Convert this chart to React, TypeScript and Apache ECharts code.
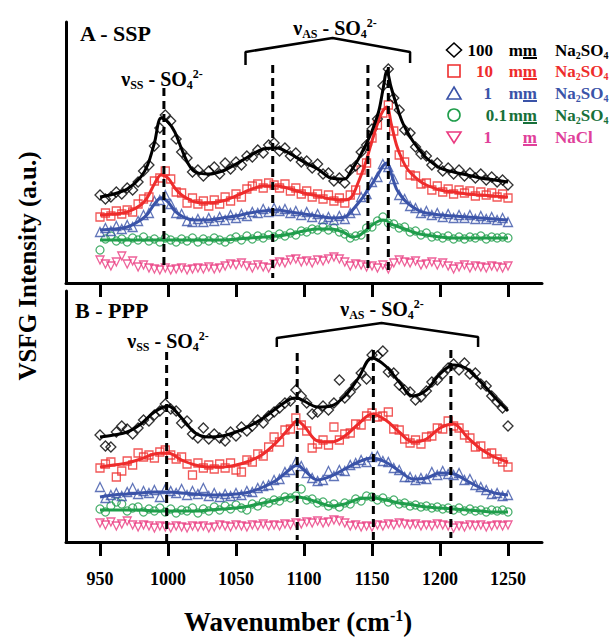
import React, { useEffect, useRef } from "react";
import * as echarts from "echarts";

const FF = "Liberation Serif";

// wavenumbers of the measured points (cm-1)
const scanX = [
  950, 954, 958, 962, 966, 970, 974, 978, 982, 986,
  990, 994, 998, 1002, 1006, 1010, 1014, 1018, 1022, 1026,
  1030, 1034, 1038, 1042, 1046, 1050, 1054, 1058, 1062, 1066,
  1070, 1074, 1078, 1082, 1086, 1090, 1094, 1098, 1102, 1106,
  1110, 1114, 1118, 1122, 1126, 1130, 1134, 1138, 1142, 1146,
  1150, 1154, 1158, 1162, 1166, 1170, 1174, 1178, 1182, 1186,
  1190, 1194, 1198, 1202, 1206, 1210, 1214, 1218, 1222, 1226,
  1230, 1234, 1238, 1242, 1246, 1250,
];

// ---- Panel A (SSP) measured points ----
const aBlackPts = [
  88, 84, 86, 91, 89, 95, 93, 101, 112, 118,
  137, 155, 168, 162, 144, 131, 125, 111, 113, 107,
  112, 116, 109, 120, 114, 121, 118, 127, 126, 133,
  130, 138, 140, 132, 135, 127, 130, 121, 122, 115,
  119, 109, 110, 102, 105, 100, 113, 117, 131, 138,
  154, 164, 197, 214, 185, 173, 153, 150, 136, 129,
  127, 118, 120, 112, 115, 109, 113, 107, 110, 105,
  109, 103, 106, 101, 103, 98,
];
const aRedPts = [
  66, 70, 67, 72, 69, 73, 71, 79, 84, 86,
  102, 105, 112, 104, 91, 90, 80, 85, 79, 82,
  77, 83, 79, 86, 82, 89, 86, 94, 97, 99,
  95, 100, 98, 95, 99, 92, 95, 89, 92, 86,
  89, 84, 88, 82, 85, 80, 88, 93, 113, 120,
  145, 158, 170, 178, 152, 128, 121, 108, 107, 99,
  100, 93, 97, 91, 94, 89, 93, 90, 92, 87,
  91, 88, 90, 86, 89, 85,
];
const aBluePts = [
  51, 55, 52, 57, 54, 58, 56, 62, 68, 70,
  82, 83, 88, 79, 70, 69, 62, 61, 64, 61,
  65, 62, 66, 63, 68, 65, 69, 67, 71, 70,
  74, 71, 75, 72, 74, 70, 72, 68, 71, 66,
  69, 64, 66, 63, 67, 64, 70, 73, 86, 89,
  101, 106, 119, 116, 104, 88, 84, 77, 75, 70,
  72, 68, 70, 66, 69, 65, 68, 65, 68, 64,
  67, 64, 66, 63, 65, 61,
];
const aGreenPts = [
  33, 44, 47, 42, 44, 41, 45, 43, 46, 42,
  44, 41, 45, 43, 41, 44, 42, 45, 41, 44,
  42, 45, 43, 41, 44, 46, 43, 47, 44, 47,
  45, 48, 46, 49, 47, 50, 48, 52, 51, 54,
  53, 56, 53, 55, 51, 49, 45, 47, 48, 55,
  56, 62, 66, 60, 59, 55, 56, 51, 52, 48,
  50, 46, 47, 45, 47, 44, 46, 44, 46, 45,
  47, 44, 46, 45, 46, 45,
];
const aPinkPts = [
  23, 19, 17, 21, 27, 19, 22, 16, 18, 15,
  14, 13, 15, 13, 14, 15, 13, 14, 15, 14,
  16, 14, 15, 17, 19, 18, 20, 17, 15, 18,
  16, 15, 19, 21, 20, 23, 24, 21, 22, 20,
  23, 22, 24, 26, 24, 21, 17, 19, 18, 16,
  17, 15, 18, 14, 20, 23, 21, 20, 22, 18,
  19, 21, 18, 20, 17, 14, 16, 18, 15, 17,
  16, 15, 17, 16, 15, 17,
];

// ---- Panel A fits ----
const fitXA = [
  950, 960, 970, 980, 985, 990, 995, 1000, 1005, 1010,
  1015, 1020, 1030, 1040, 1050, 1060, 1070, 1080, 1090, 1100,
  1110, 1120, 1130, 1135, 1140, 1145, 1150, 1155, 1158, 1161,
  1164, 1168, 1172, 1176, 1180, 1185, 1190, 1200, 1210, 1220,
  1230, 1240, 1250,
];
const aBlackFit = [
  86, 89, 94, 106, 118, 140, 165, 161, 151, 134,
  119, 111, 109, 112, 119, 127, 134, 135, 129, 121,
  114, 105, 104, 113, 124, 137, 152, 172, 193, 212,
  196, 178, 162, 151, 142, 133, 125, 115, 111, 108,
  105, 103, 101,
];
const aRedFit = [
  68, 69, 71, 78, 86, 99, 108, 105, 95, 88,
  84, 81, 80, 82, 87, 93, 97, 97, 94, 90,
  87, 84, 83, 86, 101, 119, 142, 163, 172, 176,
  160, 138, 124, 114, 108, 102, 98, 93, 91, 89,
  88, 87, 86,
];
const aBlueFit = [
  53, 54, 56, 63, 69, 79, 85, 81, 72, 67,
  64, 63, 63, 65, 67, 70, 72, 73, 71, 69,
  67, 65, 66, 72, 80, 89, 99, 110, 117, 120,
  110, 94, 86, 80, 76, 72, 70, 68, 67, 66,
  65, 64, 63,
];
const aGreenFit = [
  43, 43, 43, 43, 43, 43, 43, 43, 43, 43,
  43, 43, 43, 43, 44, 45, 46, 47, 49, 52,
  54, 54, 50, 46, 47, 52, 58, 62, 63, 62,
  59, 57, 55, 53, 51, 49, 48, 46, 45, 45,
  45, 45, 45,
];

// ---- Panel B (PPP) measured points ----
const bBlackPts = [
  107, 96, 95, 110, 116, 113, 108, 114, 122, 121,
  127, 131, 138, 133, 131, 119, 121, 108, 104, 114,
  103, 108, 104, 101, 110, 106, 115, 111, 116, 122,
  119, 126, 130, 134, 139, 141, 152, 146, 139, 128,
  130, 136, 132, 139, 162, 144, 150, 157, 169, 163,
  187, 186, 191, 170, 169, 157, 152, 150, 142, 145,
  151, 160, 162, 168, 174, 178, 172, 179, 168, 169,
  158, 156, 146, 140, 134, 116,
];
const bRedPts = [
  74, 78, 80, 65, 71, 81, 77, 89, 85, 87,
  84, 90, 92, 87, 83, 85, 78, 67, 79, 74,
  77, 73, 78, 74, 79, 72, 70, 82, 80, 88,
  86, 95, 105, 100, 112, 113, 124, 117, 111, 94,
  98, 102, 97, 115, 102, 108, 109, 118, 117, 126,
  129, 125, 126, 130, 113, 112, 103, 99, 102, 98,
  105, 106, 114, 113, 121, 116, 114, 107, 104, 95,
  96, 88, 89, 83, 80, 75,
];
const bBluePts = [
  55, 44, 47, 49, 46, 50, 54, 48, 51, 49,
  52, 45, 53, 51, 49, 53, 47, 51, 48, 54,
  46, 49, 45, 48, 46, 49, 47, 51, 50, 54,
  56, 57, 62, 63, 70, 72, 80, 76, 69, 64,
  61, 62, 71, 66, 72, 71, 77, 79, 82, 80,
  85, 86, 81, 80, 74, 72, 65, 65, 62, 64,
  63, 70, 67, 71, 68, 67, 69, 62, 63, 57,
  55, 52, 48, 49, 46, 47,
];
const bGreenPts = [
  33, 30, 36, 40, 38, 31, 34, 35, 30, 33,
  31, 34, 30, 33, 29, 32, 31, 34, 29, 33,
  31, 35, 32, 36, 33, 37, 34, 32, 38, 36,
  40, 39, 42, 41, 45, 44, 46, 53, 42, 43,
  39, 40, 36, 38, 35, 39, 38, 43, 41, 46,
  45, 42, 44, 40, 42, 38, 39, 36, 37, 35,
  36, 34, 35, 33, 34, 32, 34, 31, 33, 31,
  32, 30, 32, 31, 32, 30,
];
const bPinkPts = [
  19, 17, 20, 16, 18, 21, 17, 15, 17, 16,
  14, 16, 15, 14, 16, 15, 14, 16, 15, 16,
  14, 15, 17, 16, 15, 17, 16, 15, 17, 16,
  18, 16, 17, 16, 18, 17, 19, 18, 20, 19,
  21, 19, 20, 22, 21, 19, 16, 17, 15, 16,
  15, 17, 16, 18, 17, 19, 18, 17, 18, 16,
  17, 16, 18, 17, 16, 14, 16, 15, 17, 16,
  17, 15, 16, 17, 16, 17,
];

// ---- Panel B fits ----
const fitXB = [
  950, 960, 970, 980, 990, 1000, 1010, 1020, 1030, 1040,
  1050, 1060, 1070, 1080, 1090, 1095, 1100, 1110, 1120, 1130,
  1140, 1150, 1160, 1170, 1180, 1190, 1200, 1210, 1220, 1230,
  1240, 1250,
];
const bBlackFit = [
  105, 107, 110, 118, 130, 136, 124, 109, 105, 106,
  110, 116, 124, 134, 143, 144, 141, 135, 136, 146,
  164, 184, 176, 160, 146, 152, 168, 177, 173, 160,
  145, 131,
];
const bRedFit = [
  75, 77, 79, 83, 88, 89, 82, 77, 75, 75,
  77, 81, 88, 100, 115, 121, 116, 101, 100, 106,
  118, 128, 122, 110, 100, 103, 114, 118, 105, 93,
  85, 80,
];
const bBlueFit = [
  45, 47, 48, 49, 50, 50, 49, 48, 47, 47,
  48, 50, 55, 62, 73, 77, 72, 62, 66, 73,
  80, 84, 80, 71, 63, 64, 69, 68, 61, 54,
  49, 47,
];
const bGreenFit = [
  32, 32, 32, 32, 31, 31, 31, 31, 32, 33,
  34, 36, 39, 42, 45, 45, 44, 40, 36, 38,
  43, 44, 42, 39, 37, 35, 34, 33, 32, 31,
  30, 30,
];

// peak markers (dashed lines): position and vertical extent
const dashAX = [997, 1077, 1147, 1162];
const dashATop = [195, 218, 218, 216];
const dashABottom = [13, 5, 13, 11];
const dashBX = [999, 1095, 1151, 1208];
const dashBTop = [190, 189, 192, 192];
const dashBBottom = [0, 2, 2, 4];

// brackets over the antisymmetric stretch region
const bracketAX = [1057, 1057, 1121, 1178, 1178];
const bracketAY = [218, 231, 245, 231, 220];
const bracketBX = [1080, 1080, 1157, 1228, 1228];
const bracketBY = [195, 204, 219, 205, 195];

const xTicks = [950, 1000, 1050, 1100, 1150, 1200, 1250];

const C = {
  black: "#000000",
  red: "#ee2c2c",
  blue: "#3a53a8",
  green: "#1f9d4b",
  greenText: "#17703a",
  pink: "#ea3a80",
  pinkText: "#e0409a",
};

const pairs = (xs: number[], ys: number[]) => xs.map((x, i) => [x, ys[i]]);

const scatter = (p: number, ys: number[], symbol: string, size: number, color: string, rotate = 0) => ({
  type: "scatter",
  xAxisIndex: p,
  yAxisIndex: p,
  data: pairs(scanX, ys),
  symbol,
  symbolSize: size,
  symbolRotate: rotate,
  itemStyle: { color: "rgba(0,0,0,0)", borderColor: color, borderWidth: 1.3 },
  z: 2,
  silent: true,
});

const fit = (p: number, xs: number[], ys: number[], color: string) => ({
  type: "line",
  xAxisIndex: p,
  yAxisIndex: p,
  data: pairs(xs, ys),
  symbol: "none",
  showSymbol: false,
  smooth: 0.35,
  lineStyle: { color, width: 3 },
  z: 3,
  silent: true,
});

const dash = (p: number, x: number, top: number, bottom: number) => ({
  type: "line",
  xAxisIndex: p,
  yAxisIndex: p,
  data: [[x, top], [x, bottom]],
  symbol: "none",
  lineStyle: { color: "#000", width: 3, type: [8, 5] },
  z: 4,
  silent: true,
});

const bracket = (p: number, xs: number[], ys: number[]) => ({
  type: "line",
  xAxisIndex: p,
  yAxisIndex: p,
  data: pairs(xs, ys),
  symbol: "none",
  lineStyle: { color: "#000", width: 2.5 },
  z: 4,
  silent: true,
});

const xAxis = (p: number, labels: boolean) => ({
  type: "value",
  gridIndex: p,
  min: 925,
  max: 1275,
  axisLine: { show: true, onZero: false, lineStyle: { color: "#000", width: 3 } },
  axisTick: { show: true, inside: false, length: 14, customValues: xTicks, lineStyle: { color: "#000", width: 3 } },
  axisLabel: {
    show: labels,
    customValues: xTicks,
    formatter: (v: number) => String(v),
    margin: 28,
    fontSize: 18,
    fontWeight: "bold",
    fontFamily: FF,
    color: "#000",
  },
  splitLine: { show: false },
});

const yAxis = (p: number, max: number) => ({
  type: "value",
  gridIndex: p,
  min: 0,
  max,
  axisLine: { show: true, onZero: false, lineStyle: { color: "#000", width: 3 } },
  axisTick: { show: false },
  axisLabel: { show: false },
  splitLine: { show: false },
});

const richStyles = (size: number, color: string) => {
  const small = Math.round(size * 0.6);
  return {
    n: { fontSize: size, fontWeight: "bold", fontFamily: FF, fill: color, lineHeight: size + 3 },
    sb: { fontSize: small, fontWeight: "bold", fontFamily: FF, fill: color, verticalAlign: "bottom", lineHeight: small + 1 },
    sp: { fontSize: small, fontWeight: "bold", fontFamily: FF, fill: color, verticalAlign: "top", lineHeight: 4 },
  };
};

const text = (x: number, y: number, t: string, size: number, color: string, align = "left", rich?: any, rotation = 0) => {
  const style: any = {
    text: t,
    fill: color,
    fontSize: size,
    fontWeight: "bold",
    fontFamily: FF,
    align,
    verticalAlign: "middle",
  };
  if (rich) style.rich = rich;
  return { type: "text", x, y, rotation, silent: true, z: 10, style };
};

const nuLabel = (x: number, y: number, sub: string) =>
  text(x, y, `{n|ν}{sb|${sub}}{n| - SO}{sb|4}{sp|2-}`, 20, "#000", "center", richStyles(20, "#000"));

// legend rows
const legendNum = ["100", "10", "1", "0.1", "1"];
const legendUnit = ["mm", "mm", "mm", "mm", "m"];
const legendSalt = ["Na2SO4", "Na2SO4", "Na2SO4", "Na2SO4", "NaCl"];
const legendColor = [C.black, C.red, C.blue, C.greenText, C.pinkText];
const legendY = [50, 71, 93, 115, 137];
const legendNumRight = [493, 493, 492, 507, 492];

const legendGraphics = () => {
  const g: any[] = [];
  const sx = 454;
  const strokeW = 1.6;
  g.push({ type: "polygon", silent: true, shape: { points: [[sx, legendY[0] - 7], [sx + 7.5, legendY[0]], [sx, legendY[0] + 7], [sx - 7.5, legendY[0]]] }, style: { fill: "none", stroke: C.black, lineWidth: strokeW } });
  g.push({ type: "rect", silent: true, shape: { x: sx - 6, y: legendY[1] - 6, width: 12, height: 12 }, style: { fill: "none", stroke: C.red, lineWidth: strokeW } });
  g.push({ type: "polygon", silent: true, shape: { points: [[sx, legendY[2] - 6], [sx + 7, legendY[2] + 6], [sx - 7, legendY[2] + 6]] }, style: { fill: "none", stroke: C.blue, lineWidth: strokeW } });
  g.push({ type: "circle", silent: true, shape: { cx: sx, cy: legendY[3], r: 6 }, style: { fill: "none", stroke: C.green, lineWidth: strokeW } });
  g.push({ type: "polygon", silent: true, shape: { points: [[sx - 7, legendY[4] - 5], [sx + 7, legendY[4] - 5], [sx, legendY[4] + 6]] }, style: { fill: "none", stroke: C.pink, lineWidth: strokeW } });
  for (let i = 0; i < 5; i++) {
    const col = legendColor[i];
    const y = legendY[i];
    g.push(text(legendNumRight[i], y, legendNum[i], 17, col, "right"));
    g.push(text(537, y, legendUnit[i], 17, col, "right"));
    g.push({ type: "rect", silent: true, shape: { x: 523, y: y + 7, width: 14, height: 2 }, style: { fill: col } });
    const salt = legendSalt[i] === "Na2SO4" ? "{n|Na}{sb|2}{n|SO}{sb|4}" : "{n|NaCl}";
    g.push(text(555, y, salt, 17, col, "left", richStyles(17, col)));
  }
  return g;
};

const option = {
  animation: false,
  backgroundColor: "#ffffff",
  grid: [
    { left: 66, top: 22, width: 476, height: 261 },
    { left: 66, top: 291, width: 476, height: 251 },
  ],
  xAxis: [xAxis(0, false), xAxis(1, true)],
  yAxis: [yAxis(0, 261), yAxis(1, 251)],
  series: [
    scatter(0, aPinkPts, "triangle", 8, C.pink, 180),
    scatter(0, aGreenPts, "circle", 8, C.green),
    scatter(0, aBluePts, "triangle", 9, C.blue),
    scatter(0, aRedPts, "rect", 8, C.red),
    scatter(0, aBlackPts, "diamond", 10, C.black),
    fit(0, fitXA, aGreenFit, C.green),
    fit(0, fitXA, aBlueFit, C.blue),
    fit(0, fitXA, aRedFit, C.red),
    fit(0, fitXA, aBlackFit, C.black),
    ...dashAX.map((x, i) => dash(0, x, dashATop[i], dashABottom[i])),
    bracket(0, bracketAX, bracketAY),

    scatter(1, bPinkPts, "triangle", 8, C.pink, 180),
    scatter(1, bGreenPts, "circle", 8, C.green),
    scatter(1, bBluePts, "triangle", 9, C.blue),
    scatter(1, bRedPts, "rect", 8, C.red),
    scatter(1, bBlackPts, "diamond", 10, C.black),
    fit(1, fitXB, bGreenFit, C.green),
    fit(1, fitXB, bBlueFit, C.blue),
    fit(1, fitXB, bRedFit, C.red),
    fit(1, fitXB, bBlackFit, C.black),
    ...dashBX.map((x, i) => dash(1, x, dashBTop[i], dashBBottom[i])),
    bracket(1, bracketBX, bracketBY),
  ],
  graphic: [
    text(80, 33, "A - SSP", 22, "#000"),
    text(75, 310, "B - PPP", 22, "#000"),
    nuLabel(162, 79, "SS"),
    nuLabel(335, 28, "AS"),
    nuLabel(168, 341, "SS"),
    nuLabel(382, 309, "AS"),
    text(27, 266, "VSFG Intensity (a.u.)", 25, "#000", "center", undefined, Math.PI / 2),
    text(298, 622, "{a|Wavenumber (cm}{b|-1}{a|)}", 27, "#000", "center", {
      a: { fontSize: 27, fontWeight: "bold", fontFamily: FF, fill: "#000", lineHeight: 30 },
      b: { fontSize: 16, fontWeight: "bold", fontFamily: FF, fill: "#000", verticalAlign: "top", lineHeight: 6 },
    }),
    ...legendGraphics(),
  ],
};

export default function App() {
  const ref = useRef<HTMLDivElement>(null);
  useEffect(() => {
    if (!ref.current) return;
    let alive = true;
    const chart = echarts.init(ref.current, null, { renderer: "svg" });
    chart.setOption(option as any);
    const fonts = (document as any).fonts;
    if (fonts && fonts.ready) {
      fonts.ready.then(() => {
        if (alive) chart.setOption(option as any, true);
      });
    }
    return () => {
      alive = false;
      chart.dispose();
    };
  }, []);
  return (
    <div
      ref={ref}
      style={{ position: "absolute", left: 0, top: 0, width: 612, height: 637, background: "#fff" }}
    />
  );
}
